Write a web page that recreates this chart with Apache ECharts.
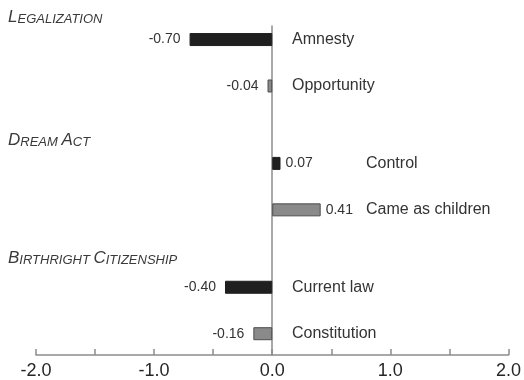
<!DOCTYPE html>
<html>
<head>
<meta charset="utf-8">
<title>Immigration framing effects</title>
<script src="https://cdn.jsdelivr.net/npm/echarts@6/dist/echarts.min.js"></script>
<style>
  html, body { margin: 0; padding: 0; background: #fff; }
  #chart { width: 524px; height: 380px; }
</style>
</head>
<body>
<div id="chart"></div>
<script>
// data
const groupTitles = ['Legalization', 'Dream Act', 'Birthright Citizenship']
const itemGroup = [0, 0, 1, 1, 2, 2]
const items = ['Amnesty', 'Opportunity', 'Control', 'Came as children', 'Current law', 'Constitution']
const values = [-0.70, -0.04, 0.07, 0.41, -0.40, -0.16]
const xTickLabels = ['-2.0', '-1.0', '0.0', '1.0', '2.0']

// layout: thin category slots, bars sit on some of them
const SLOTS = 85
const FIRST_SLOT = 3
const STEP_IN_GROUP = 12
const STEP_NEW_GROUP = 20
const headerY = [17, 140, 258]
const GRID_LEFT = 36
const ZERO_X = 272

let rowNames = []
let rowItem = []
for (let i = 0; i < SLOTS; i++) {
  rowNames.push('_' + i)
  rowItem.push(-1)
}
let slot = FIRST_SLOT
items.forEach((name, i) => {
  if (i > 0) {
    slot += itemGroup[i] === itemGroup[i - 1] ? STEP_IN_GROUP : STEP_NEW_GROUP
  }
  rowNames[slot] = name
  rowItem[slot] = i
})

const barData = rowItem.map(i => {
  if (i < 0) return '-'
  const v = values[i]
  const dark = i % 2 === 0
  return {
    value: v,
    itemStyle: {
      color: dark ? '#1f1f1f' : '#8a8a8a',
      borderColor: dark ? '#1f1f1f' : '#4d4d4d',
      borderWidth: 1
    },
    label: {
      position: v < 0 ? 'left' : 'right',
      distance: v < 0 ? 9 : 5
    }
  }
})

// small caps header text
function smallCaps(title) {
  return title.split(' ').map(w => {
    return '{b|' + w[0] + '}{s|' + w.slice(1).toUpperCase() + '}'
  }).join('{s| }')
}

const chart = echarts.init(document.getElementById('chart'))
chart.setOption({
  animation: false,
  textStyle: {
    fontFamily: '"Liberation Sans", Arial, Helvetica, sans-serif'
  },
  grid: {
    left: GRID_LEFT,
    right: 15,
    top: 26,
    bottom: 24
  },
  xAxis: {
    type: 'value',
    min: -2,
    max: 2,
    interval: 0.5,
    axisLine: {
      show: true,
      onZero: false,
      lineStyle: { color: '#8c8c8c', width: 1.5 }
    },
    axisTick: {
      show: true,
      inside: true,
      length: 6,
      lineStyle: { color: '#8c8c8c', width: 1.5 }
    },
    axisLabel: {
      fontSize: 18,
      color: '#262626',
      margin: 7,
      formatter: v => {
        // only whole numbers get a label
        if (Math.abs(v - Math.round(v)) > 1e-6) return ''
        return xTickLabels[Math.round(v) + 2]
      }
    },
    splitLine: { show: false }
  },
  yAxis: {
    type: 'category',
    inverse: true,
    data: rowNames,
    axisLine: {
      onZero: true,
      lineStyle: { color: '#8c8c8c', width: 1.5 }
    },
    axisTick: { show: false },
    axisLabel: {
      inside: true,
      interval: 0,
      // labels stay at the grid edge, push them past the zero line
      margin: ZERO_X - GRID_LEFT + 20,
      formatter: (val, idx) => {
        const i = rowItem[idx]
        if (i < 0) return ''
        // positive value labels sit right of the bar, names move further out
        return values[i] > 0 ? '{p|' + val + '}' : '{n|' + val + '}'
      },
      rich: {
        n: { fontSize: 16, color: '#333' },
        p: { fontSize: 16, color: '#333', padding: [0, 0, 0, 74] }
      }
    },
    splitLine: { show: false }
  },
  graphic: groupTitles.map((t, g) => {
    return {
      type: 'text',
      x: 8,
      y: headerY[g],
      style: {
        text: smallCaps(t),
        verticalAlign: 'middle',
        align: 'left',
        fill: '#3a3a3a',
        rich: {
          b: { fontSize: 17, fontStyle: 'italic', fill: '#3a3a3a', verticalAlign: 'bottom', fontFamily: '"Liberation Sans", Arial, sans-serif' },
          s: { fontSize: 13, fontStyle: 'italic', fill: '#3a3a3a', verticalAlign: 'bottom', fontFamily: '"Liberation Sans", Arial, sans-serif' }
        }
      }
    }
  }),
  series: [{
    type: 'bar',
    barWidth: 13,
    data: barData,
    label: {
      show: true,
      fontSize: 14,
      color: '#333',
      formatter: p => p.value.toFixed(2)
    }
  }]
})
</script>
</body>
</html>
